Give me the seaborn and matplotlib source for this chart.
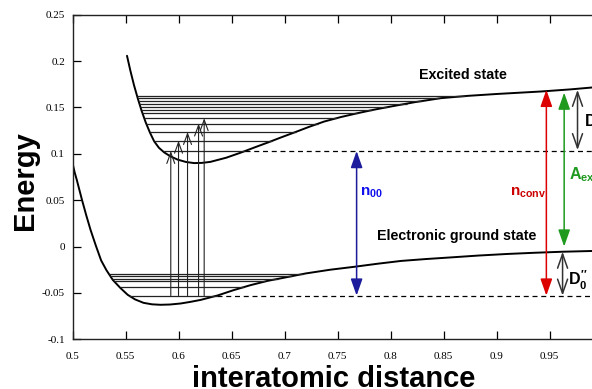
import numpy as np
import seaborn as sns
import matplotlib.pyplot as plt

sns.set_theme(style='ticks')
plt.rcParams['font.family'] = ['Liberation Sans', 'DejaVu Sans']
plt.rcParams['axes.unicode_minus'] = False
plt.rcParams['mathtext.fontset'] = 'custom'
plt.rcParams['mathtext.rm'] = 'Liberation Sans:bold'
plt.rcParams['mathtext.it'] = 'Liberation Sans:bold'
plt.rcParams['mathtext.bf'] = 'Liberation Sans:bold'
for k in ['text.color', 'axes.labelcolor', 'xtick.color', 'ytick.color']:
    plt.rcParams[k] = 'black'

## Potential curves
ground_x = [0.500, 0.502, 0.504, 0.5065, 0.509, 0.513, 0.517, 0.522, 0.527, 0.532, 0.538,
            0.545, 0.552, 0.559, 0.567, 0.575, 0.583, 0.592, 0.602, 0.611, 0.621, 0.637,
            0.652, 0.668, 0.684, 0.700, 0.720, 0.743, 0.766, 0.788, 0.810, 0.833, 0.857,
            0.883, 0.910, 0.936, 0.962, 1.000]
ground_y = [0.090, 0.080, 0.072, 0.061, 0.050, 0.0335, 0.018, 0.001, -0.015, -0.0255, -0.036,
            -0.0445, -0.052, -0.057, -0.0607, -0.0623, -0.0628, -0.0625, -0.0614, -0.0597, -0.0575, -0.0527,
            -0.047, -0.0416, -0.037, -0.0335, -0.029, -0.025, -0.0218, -0.0185, -0.0155, -0.0135, -0.0117,
            -0.0097, -0.008, -0.0067, -0.0056, -0.0045]

excited_x = [0.5514, 0.5545, 0.558, 0.5615, 0.565, 0.569, 0.573, 0.577, 0.5815, 0.5865, 0.592,
             0.599, 0.607, 0.6147, 0.622, 0.630, 0.645, 0.6588, 0.672, 0.685, 0.697, 0.709,
             0.723, 0.7374, 0.753, 0.7689, 0.785, 0.8003, 0.823, 0.8474, 0.873, 0.900, 0.942,
             0.970, 1.000]
excited_y = [0.2057, 0.190, 0.174, 0.160, 0.147, 0.134, 0.123, 0.1135, 0.1065, 0.1015, 0.0975,
             0.0938, 0.0912, 0.0900, 0.0902, 0.0913, 0.0958, 0.1013, 0.107, 0.1125, 0.1178, 0.1229,
             0.1290, 0.1348, 0.1396, 0.1438, 0.1477, 0.151, 0.1557, 0.160, 0.1625, 0.1645, 0.1672,
             0.1695, 0.1725]

## Vibrational levels
ground_levels = [-0.0529, -0.0437, -0.0376, -0.0348, -0.032, -0.0295]
excited_levels = [0.103, 0.1141, 0.1235, 0.1326, 0.1384, 0.1438, 0.1470, 0.1503,
                  0.1541, 0.1569, 0.1597, 0.1622]

## Absorption arrows v''=0 -> v'
absorb_x = [0.5927, 0.600, 0.6085, 0.6189, 0.6242]
absorb_top = [0.103, 0.1141, 0.1235, 0.1326, 0.1384]

## Big arrows: n00, nconv, Aexc, D0', D0''
big_x = [0.768, 0.947, 0.9638, 0.9764, 0.9623]
big_y0 = [-0.0529, -0.0529, 0.000, 0.104, -0.0529]
big_y1 = [0.103, 0.169, 0.166, 0.169, -0.0056]

xticks = [0.5, 0.55, 0.6, 0.65, 0.7, 0.75, 0.8, 0.85, 0.9, 0.95]
xtick_labels = ['0.5', '0.55', '0.6', '0.65', '0.7', '0.75', '0.8', '0.85', '0.9', '0.95']
yticks = [-0.1, -0.05, 0, 0.05, 0.1, 0.15, 0.2, 0.25]
ytick_labels = ['-0.1', '-0.05', '0', '0.05', '0.1', '0.15', '0.2', '0.25']

fig = plt.figure(figsize=(5.92, 3.89), dpi=100)
ax = fig.add_axes([0.1225, 0.1278, 0.8953, 0.8344])

sns.lineplot(x=ground_x, y=ground_y, ax=ax, color='black', lw=1.4, estimator=None, sort=False)
sns.lineplot(x=excited_x, y=excited_y, ax=ax, color='black', lw=1.4, estimator=None, sort=False)

# level end points where they meet the curves
def branch_ends(cx, cy, levels):
    cx = np.array(cx); cy = np.array(cy)
    i = int(np.argmin(cy))
    left = np.interp(levels, cy[:i + 1][::-1], cx[:i + 1][::-1])
    right = np.interp(levels, cy[i:], cx[i:])
    return left, right

gl, gr = branch_ends(ground_x, ground_y, ground_levels)
el, er = branch_ends(excited_x, excited_y, excited_levels)
ax.hlines(ground_levels, gl, gr, color='#222222', lw=0.9)
ax.hlines(excited_levels, el, er, color='#222222', lw=0.9)
ax.hlines([ground_levels[0]], gr[0], 1.0, color='black', lw=0.9, linestyles=(0, (4, 3)))
ax.hlines([excited_levels[0]], er[0], 1.0, color='black', lw=0.9, linestyles=(0, (4, 3)))

for x, top in zip(absorb_x, absorb_top):
    ax.annotate('', xy=(x, top), xytext=(x, ground_levels[0]),
                arrowprops=dict(arrowstyle='->,head_length=0.6,head_width=0.22', color='#222222',
                                lw=0.8, shrinkA=0, shrinkB=0, mutation_scale=13))

big_colors = ['#1c1c9c', '#dd0000', '#1f9a1f', '#333333', '#333333']
big_styles = ['<|-|>', '<|-|>', '<|-|>', '<->', '<->']
for x, y0, y1, c, st in zip(big_x, big_y0, big_y1, big_colors, big_styles):
    ax.annotate('', xy=(x, y1), xytext=(x, y0),
                arrowprops=dict(arrowstyle=st + ',head_length=0.85,head_width=0.3', color=c,
                                lw=1.1, shrinkA=0, shrinkB=0, mutation_scale=12))

ax.text(0.8684, 0.1852, 'Excited state', fontsize=10.3, fontweight='bold', ha='center', va='center')
ax.text(0.862, 0.0113, 'Electronic ground state', fontsize=10.3, fontweight='bold', ha='center', va='center')
ax.text(0.771, 0.058, r'$n_{00}$', color='#1010ee', fontsize=11, ha='left', va='center')
ax.text(0.9125, 0.058, r'$n_{conv}$', color='#cc0000', fontsize=11, ha='left', va='center')
ax.text(0.968, 0.078, r'$A_{exc}$', color='#1f9a1f', fontsize=11.5, ha='left', va='center')
ax.text(0.9826, 0.134, r'$D_0^{\prime}$', color='black', fontsize=11.5, ha='left', va='center')
ax.text(0.9675, -0.036, r'$D_0^{\prime\prime}$', color='black', fontsize=11.5, ha='left', va='center')

ax.set_xlim(0.5, 1.0)
ax.set_ylim(-0.1, 0.25)
ax.set_xticks(xticks)
ax.set_xticklabels(xtick_labels, family='Liberation Serif', fontsize=8)
ax.set_yticks(yticks)
ax.set_yticklabels(ytick_labels, family='Liberation Serif', fontsize=8)
ax.tick_params(direction='in', top=True, right=False, length=6, width=0.9, color='black')
ax.tick_params(axis='x', pad=9)
ax.tick_params(axis='y', pad=5.5)
ax.set_xlabel('')
ax.set_ylabel('')
for s in ax.spines.values():
    s.set_color('#222222')
    s.set_linewidth(1.0)

fig.text(0.043, 0.537, 'Energy', rotation=90, fontsize=21, fontweight='bold', ha='center', va='center')
fig.text(0.564, 0.006, 'interatomic distance', fontsize=21, fontweight='bold', ha='center', va='baseline')

fig.savefig('out.png', dpi=100)
